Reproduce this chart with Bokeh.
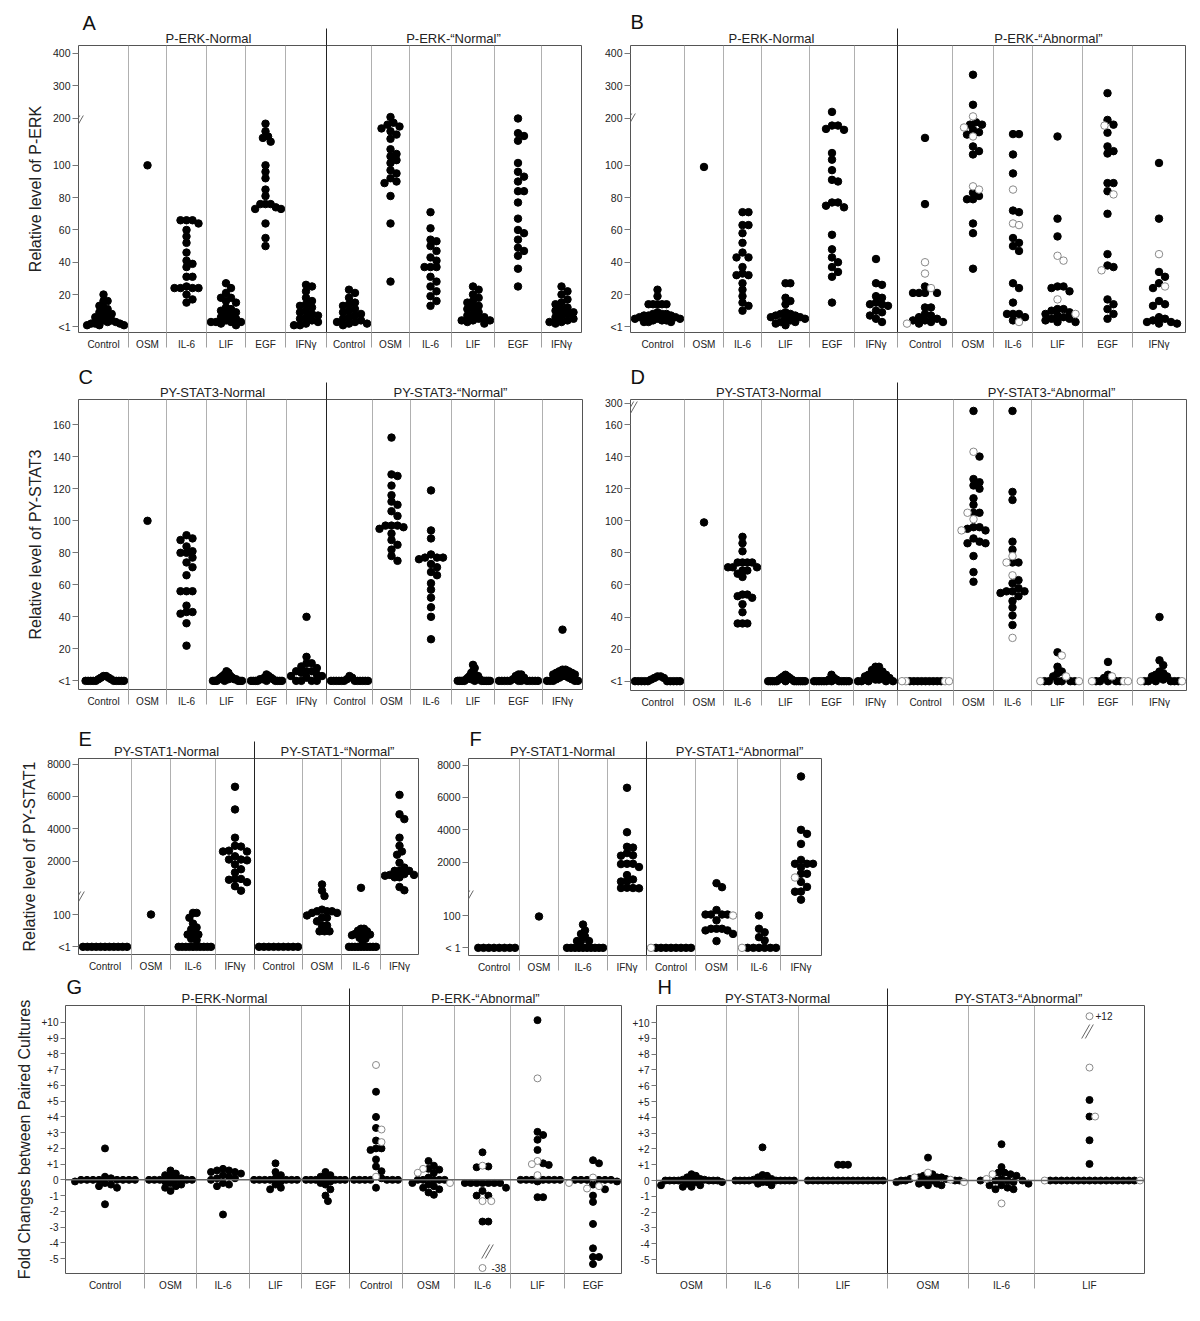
import numpy as np
from bokeh.plotting import figure
from bokeh.layouts import column, row
from bokeh.models import FixedTicker, Range1d, LinearAxis, Span
from bokeh.core.properties import value
from bokeh.embed import file_html
from bokeh.resources import INLINE

FONT = "Liberation Sans"

# ---------------- categories ----------------
CATS6 = ["Control", "OSM", "IL-6", "LIF", "EGF", "IFN\u03b3"]
CATS4 = ["Control", "OSM", "IL-6", "IFN\u03b3"]
CATS5 = ["Control", "OSM", "IL-6", "LIF", "EGF"]
CATS3 = ["OSM", "IL-6", "LIF"]

# ---------------- Panel A: P-ERK ----------------
A_ERK_NORMAL = [
    [20, 16, 16, 13, 12, 11, 9, 8, 8, 7, 6, 5, 4, 4, 3, 3, 2, 2, 1, 1, 1, 2],
    [100],
    [66, 66, 66, 64, 60, 56, 52, 46, 41, 39, 37, 31, 31, 25, 24, 24, 24, 24, 20, 17, 15],
    [27, 24, 21, 18, 18, 16, 15, 12, 11, 10, 9, 8, 7, 6, 5, 4, 3, 3, 3, 3, 2, 1],
    [188, 172, 161, 158, 150, 100, 96, 92, 85, 81, 76, 76, 76, 74, 73, 73, 64, 55, 50],
    [26, 25, 22, 18, 16, 14, 13, 12, 10, 9, 8, 7, 6, 5, 4, 3, 2, 1, 1],
]
A_ERK_QNORMAL = [
    [23, 21, 18, 15, 14, 13, 11, 10, 9, 8, 7, 6, 5, 4, 3, 3, 2, 2, 1],
    [203, 190, 186, 182, 178, 172, 165, 156, 134, 124, 119, 111, 105, 97, 95, 92, 90, 89, 81, 64, 28],
    [71, 61, 54, 53, 50, 47, 43, 41, 37, 37, 37, 31, 28, 25, 22, 19, 16, 13],
    [25, 23, 20, 18, 16, 15, 13, 12, 11, 9, 8, 7, 6, 5, 4, 4, 4, 3, 2],
    [199, 168, 162, 152, 105, 96, 93, 90, 84, 84, 77, 67, 60, 58, 54, 49, 47, 44, 36, 25],
    [25, 22, 20, 17, 15, 14, 12, 11, 10, 9, 8, 7, 6, 5, 4, 3, 3, 2],
]
# ---------------- Panel B: P-ERK ----------------
B_ERK_NORMAL = [
    [23, 19, 14, 14, 14, 14, 14, 9, 8, 8, 8, 7, 7, 7, 6, 6, 5, 5, 5, 4, 4, 4, 3, 3, 3],
    [99],
    [71, 71, 63, 63, 58, 52, 46, 43, 43, 37, 33, 32, 32, 27, 23, 19, 15, 13, 10],
    [27, 27, 18, 16, 14, 9, 8, 8, 7, 7, 6, 6, 5, 5, 4, 3, 3, 2, 1],
    [219, 184, 184, 177, 175, 126, 112, 97, 91, 90, 77, 77, 75, 74, 57, 48, 43, 40, 37, 34, 31, 15],
    [42, 27, 26, 19, 18, 15, 14, 14, 13, 10, 9, 7, 5, 3],
]
B_ERK_ABNORMAL = [
    [158, 76, 25, 21, 21, 21, 21, 12, 12, 8, 7, 6, 5, 4, 4, 3, 3, 2],
    [334, 241, 191, 186, 186, 175, 170, 165, 140, 130, 123, 83, 81, 79, 79, 64, 58, 36],
    [166, 166, 123, 95, 72, 71, 55, 52, 50, 47, 27, 24, 15, 8, 8, 8, 6, 4],
    [161, 67, 56, 25, 25, 24, 22, 11, 11, 10, 9, 8, 7, 6, 5, 5, 4, 3, 3],
    [277, 196, 186, 169, 140, 130, 125, 89, 89, 84, 70, 45, 38, 37, 17, 14, 11, 8, 5],
    [105, 67, 34, 31, 27, 24, 16, 14, 13, 6, 5, 4, 3, 3, 2, 2],
]
B_ERK_ABNORMAL_OPEN = [
    [40, 33, 24, 2],
    [205, 180, 161, 87, 85],
    [85, 64, 63, 3],
    [44, 41, 17, 8],
    [184, 82, 35],
    [45, 25],
]
# ---------------- Panel C: PY-STAT3 ----------------
C_STAT3_NORMAL = [
    [0, 0, 0, 0, 0, 0, 0, 0, 0, 0, 1, 2, 3, 3, 2, 1],
    [100],
    [91, 89, 88, 84, 81, 80, 80, 77, 74, 71, 66, 56, 56, 56, 47, 43, 43, 42, 36, 22],
    [0, 0, 0, 0, 1, 1, 2, 2, 3, 3, 4, 5, 6, 1, 0, 0, 0, 2, 1],
    [0, 0, 0, 0, 0, 0, 1, 1, 2, 3, 4, 2, 1, 0, 0, 0],
    [40, 15, 11, 11, 9, 8, 6, 6, 6, 5, 4, 3, 3, 2, 0, 0, 0, 0],
]
C_STAT3_QNORMAL = [
    [0, 0, 0, 0, 0, 0, 0, 0, 0, 0, 0, 0, 1, 2, 3],
    [152, 129, 128, 122, 116, 112, 110, 106, 103, 97, 97, 97, 96, 95, 92, 88, 85, 82, 78, 75],
    [119, 94, 89, 79, 77, 77, 77, 76, 73, 71, 68, 66, 61, 57, 52, 46, 40, 26],
    [0, 0, 0, 0, 0, 0, 0, 0, 0, 0, 1, 2, 3, 3, 4, 5, 6, 8, 10, 3, 2, 1, 1, 0, 0],
    [0, 0, 0, 0, 0, 0, 0, 0, 0, 0, 0, 0, 1, 2, 3, 4, 4],
    [32, 7, 7, 6, 6, 5, 5, 4, 4, 3, 3, 2, 2, 1, 1, 0, 0, 0, 0, 0],
]
# ---------------- Panel D: PY-STAT3 ----------------
D_STAT3_NORMAL = [
    [0, 0, 0, 0, 0, 0, 0, 0, 0, 0, 1, 2, 3, 3, 2],
    [99],
    [90, 86, 81, 74, 74, 74, 74, 71, 71, 71, 69, 69, 67, 65, 54, 54, 53, 52, 48, 43, 36, 36, 36],
    [0, 0, 0, 0, 0, 0, 0, 0, 0, 0, 0, 0, 1, 2, 3, 4, 3, 2, 1],
    [0, 0, 0, 0, 0, 0, 0, 0, 0, 0, 0, 0, 1, 2, 4, 1],
    [9, 9, 7, 6, 5, 5, 4, 4, 3, 3, 2, 2, 1, 1, 0, 0, 0, 0, 0],
]
D_STAT3_ABNORMAL = [
    [0, 0, 0, 0, 0, 0, 0, 0, 0],
    [250, 140, 126, 124, 122, 120, 114, 110, 105, 105, 96, 96, 95, 94, 89, 87, 86, 86, 78, 68, 62],
    [250, 118, 113, 87, 82, 74, 74, 63, 61, 58, 56, 56, 56, 55, 53, 50, 46, 41, 35],
    [18, 9, 6, 5, 3, 0, 0, 0, 0, 0, 0],
    [12, 4, 2, 0, 0, 0, 0, 0],
    [40, 13, 10, 6, 5, 4, 3, 3, 2, 1, 0, 0, 0, 0, 0, 0],
]
D_STAT3_ABNORMAL_OPEN = [
    [0, 0, 0, 0],
    [143, 105, 101, 94],
    [78, 74, 66, 27],
    [16, 3, 0, 0],
    [3, 0, 0, 0],
    [0, 0],
]
# ---------------- Panel E: PY-STAT1 ----------------
E_STAT1_NORMAL = [
    [0, 0, 0, 0, 0, 0, 0, 0, 0, 0, 0],
    [100],
    [105, 105, 90, 72, 60, 54, 38, 38, 38, 25, 21, 0, 0, 0, 0, 0, 0, 0, 0, 0, 0],
    [6600, 5200, 3450, 2950, 2900, 2650, 2600, 2600, 2300, 2100, 2100, 2050, 1800, 1500,
     1300, 900, 900, 850, 700, 450, 175],
]
E_STAT1_QNORMAL = [
    [0, 0, 0, 0, 0, 0, 0, 0, 0],
    [560, 175, 157, 115, 110, 110, 110, 105, 105, 97, 90, 90, 79, 66, 66, 48, 48, 48],
    [350, 56, 56, 50, 48, 40, 38, 38, 36, 28, 25, 18, 0, 0, 0, 0, 0, 0, 0, 0, 0, 0],
    [6100, 4900, 4600, 3450, 2950, 2600, 2400, 1900, 1600, 1400, 1400, 1400, 1200, 1150,
     1150, 1100, 1000, 1000, 400, 200],
]
# ---------------- Panel F: PY-STAT1 ----------------
F_STAT1_NORMAL = [
    [0, 0, 0, 0, 0, 0, 0, 0],
    [97],
    [72, 54, 43, 35, 21, 21, 21, 0, 0, 0, 0, 0, 0, 0, 0, 0, 0],
    [6600, 3850, 2950, 2900, 2560, 2420, 2400, 1900, 1900, 1880, 1700, 1200, 930, 820, 800,
     420, 400, 400, 380],
]
F_STAT1_ABNORMAL = [
    [0, 0, 0, 0, 0, 0, 0, 0],
    [700, 450, 117, 103, 103, 103, 103, 85, 59, 59, 59, 54, 54, 43, 21],
    [100, 59, 48, 33, 23, 0, 0, 0, 0, 0, 0],
    [7300, 4000, 3750, 3130, 2140, 1900, 1900, 1900, 1680, 1280, 1280, 780, 470, 180, 175, 149],
]
F_STAT1_ABNORMAL_OPEN = [[0], [100], [0], [1050]]
# ---------------- Panel G: fold change P-ERK ----------------
G_ERK_NORMAL = [
    [2.0, 0.2, 0.1, 0, 0, 0, 0, 0, 0, 0, 0, -0.1, -0.2, -0.3, -0.4, -0.5, -1.55],
    [0.6, 0.4, 0.3, 0.2, 0.1, 0, 0, 0, 0, 0, 0, -0.1, -0.2, -0.3, -0.4, -0.5, -0.7],
    [0.7, 0.6, 0.6, 0.5, 0.5, 0.4, 0.3, 0.2, 0.1, 0.1, 0, -0.2, -0.3, -0.4, -2.2],
    [1.05, 0.5, 0.3, 0.1, 0, 0, 0, 0, 0, 0, 0, -0.1, -0.3, -0.5, -0.6],
    [0.5, 0.3, 0.2, 0.1, 0, 0, 0, 0, 0, 0, -0.1, -0.2, -0.3, -0.6, -1.0, -1.35],
]
G_ERK_ABNORMAL = [
    [5.6, 4.0, 3.3, 2.5, 2.0, 2.0, 1.9, 1.3, 0.85, 0.55, 0.1, 0, 0, 0, 0, 0, 0, 0, -0.5],
    [1.2, 0.9, 0.7, 0.65, 0.45, 0.15, 0, 0, 0, 0, 0, -0.2, -0.3, -0.4, -0.5, -0.6, -0.8, -0.95],
    [1.75, 0.85, 0.8, -0.2, -0.2, -0.2, -0.2, -0.2, -0.2, -0.2, -0.5, -0.7, -1.0, -1.0, -2.65, -2.65],
    [10.15, 3.05, 2.85, 2.55, 1.9, 1.05, 0.95, 0, 0, 0, 0, 0, 0, 0, -0.1, -1.1, -1.1],
    [1.25, 1.05, 0, 0, 0, 0, 0, 0, -0.1, -0.3, -0.6, -1.0, -1.4, -2.8, -4.35, -4.9, -4.9, -5.35],
]
G_ERK_ABNORMAL_OPEN = [
    [7.3, 3.2, 2.4, 0.2],
    [0.7, 0.45, -0.2],
    [0.9, -1.35, -1.35, -38],
    [6.45, 1.2, 1.0, 0.3],
    [0.15, -0.2, -0.4, -0.55],
]
# ---------------- Panel H: fold change PY-STAT3 ----------------
H_STAT3_NORMAL = [
    [0.4, 0.3, 0.2, 0.1, 0.05, 0, 0, 0, 0, 0, -0.1, -0.2, -0.3, -0.3, -0.4, -0.4, -0.1, 0, 0.05, 0, 0],
    [2.1, 0.35, 0.3, 0.2, 0.1, 0.05, 0, 0, 0, 0, 0, 0, 0, -0.1, -0.2, -0.3, -0.1, 0, 0],
    [1, 1, 1, 0, 0, 0, 0, 0, 0, 0, 0, 0, 0, 0, 0, 0, 0, 0, 0],
]
H_STAT3_ABNORMAL = [
    [1.45, 0.4, 0.3, 0.2, 0.2, 0.1, 0.1, 0, 0, 0, 0, 0, -0.1, -0.2, -0.3, -0.3, -0.2, -0.1, 0.1, 0.2],
    [2.3, 0.85, 0.5, 0.5, 0.4, 0.3, 0.1, 0, 0, 0, 0, -0.1, -0.2, -0.3, -0.3, -0.45, -0.55, -0.55],
    [5.1, 4.05, 2.55, 1.05, 0, 0, 0, 0, 0, 0, 0, 0, 0, 0, 0, 0, 0, 0, 0, 0],
]
H_STAT3_ABNORMAL_OPEN = [
    [0.5, 0.2, -0.1, 0.05],
    [0.4, 0.1, -1.45],
    [12, 7.15, 4.05, 0, 0],
]

# tick values (data units) and labels
ERK_TICKS = [0, 20, 40, 60, 80, 100, 200, 300, 400]
ERK_TICK_LABELS = ["<1", "20", "40", "60", "80", "100", "200", "300", "400"]
C_TICKS = [0, 20, 40, 60, 80, 100, 120, 140, 160]
C_TICK_LABELS = ["<1", "20", "40", "60", "80", "100", "120", "140", "160"]
D_TICKS = [0, 20, 40, 60, 80, 100, 120, 140, 160, 300]
D_TICK_LABELS = ["<1", "20", "40", "60", "80", "100", "120", "140", "160", "300"]
S1_TICKS = [0, 100, 2000, 4000, 6000, 8000]
E_TICK_LABELS = ["<1", "100", "2000", "4000", "6000", "8000"]
F_TICK_LABELS = ["< 1", "100", "2000", "4000", "6000", "8000"]
FOLD_TICKS = [10, 9, 8, 7, 6, 5, 4, 3, 2, 1, 0, -1, -2, -3, -4, -5]
FOLD_TICK_LABELS = ["+10", "+9", "+8", "+7", "+6", "+5", "+4", "+3", "+2", "+1", "0",
                    "-1", "-2", "-3", "-4", "-5"]


# ---------------- broken-axis transforms ----------------
def erk_tf(v):
    v = np.asarray(v, float)
    return np.where(v <= 100, v, np.where(v <= 200, 100 + (v - 100) * 0.293, 129.3 + (v - 200) * 0.2))


def lin_tf(v):
    return np.asarray(v, float)


def stat3d_tf(v):
    v = np.asarray(v, float)
    return np.where(v <= 160, v, 160 + (v - 160) * 0.0943)


def stat1_tf(v):
    v = np.asarray(v, float)
    return np.where(v <= 170, v, 165 + 0.05 * v)


def fold_tf(v):
    v = np.asarray(v, float)
    return np.where(v < -6, -5.6, np.where(v > 11, 10.4, v))


def swarm(ypx, d):
    n = len(ypx)
    offs = np.zeros(n)
    order = sorted(range(n), key=lambda i: -ypx[i])
    placed = []
    step = d / 2.0
    for i in order:
        y = ypx[i]
        k = 0
        while True:
            cands = [0.0] if k == 0 else [k * step, -k * step]
            found = None
            for c in cands:
                if all((c - px) ** 2 + (y - py) ** 2 >= d * d - 1e-9 for px, py in placed):
                    found = c
                    break
            if found is not None:
                break
            k += 1
        offs[i] = found
        placed.append((found, y))
    return offs


def make_panel(box, row_top, row_bottom, border_lr, yr, tf, ytick_vals, ytick_labels, ylabel,
               dividers, main_idx, xlabels, filled, opened, titles, letter,
               breaks=(), zero_line=False, specials=(), dot=7.5, d=6.0, tick_font="10.5px",
               tick_out=6, letter_standoff=0):
    fl, ft, fw, fh = box
    bl, br = border_lr
    y0, y1 = yr
    ppu = fh / (y1 - y0)

    def X(a):
        return a - fl

    def Y(a):
        return y1 - (a - ft) / ppu

    p = figure(frame_width=fw, frame_height=fh, x_range=Range1d(0, fw), y_range=Range1d(y0, y1),
               output_backend="svg", toolbar_location=None,
               min_border_left=bl, min_border_right=br, min_border_top=ft - row_top,
               min_border_bottom=row_bottom - (ft + fh))
    p.xgrid.visible = False
    p.ygrid.visible = False
    p.outline_line_color = "#555555"
    p.outline_line_width = 1
    p.background_fill_color = "white"
    p.border_fill_color = "white"

    # panel letter as the plot title
    p.title.text = letter[0]
    p.title.align = "left"
    p.title.offset = max(0, letter[1] - fl)
    p.title.text_font = FONT
    p.title.text_font_size = "20px"
    p.title.text_font_style = "normal"
    p.title.text_color = "#111111"
    p.title.standoff = letter_standoff

    bounds = [0] + list(dividers) + [fw]
    centers = [(bounds[i] + bounds[i + 1]) / 2.0 for i in range(len(bounds) - 1)]

    # bottom axis: category labels, divider extensions as minor ticks
    xa = p.xaxis[0]
    xa.ticker = FixedTicker(ticks=centers, minor_ticks=[float(v) for v in dividers])
    xa.major_label_overrides = {c: lab for c, lab in zip(centers, xlabels)}
    xa.major_tick_out = 0
    xa.major_tick_in = 0
    xa.major_tick_line_color = None
    xa.minor_tick_out = 15
    xa.minor_tick_in = 0
    xa.minor_tick_line_color = "#a0a0a0"
    xa.axis_line_color = None
    xa.major_label_text_font = FONT
    xa.major_label_text_font_size = "10px"
    xa.major_label_text_color = "#222222"
    xa.major_label_standoff = -9

    # top axis: group titles, main divider extension as minor tick
    tcs = [float(X(t[1])) for t in titles]
    ta = LinearAxis(ticker=FixedTicker(ticks=tcs, minor_ticks=[float(dividers[main_idx])]),
                    major_label_overrides={c: t[0] for c, t in zip(tcs, titles)},
                    major_tick_out=0, major_tick_in=0, major_tick_line_color=None,
                    minor_tick_out=17, minor_tick_in=0, minor_tick_line_color="#222222",
                    axis_line_color=None, major_label_text_font=FONT,
                    major_label_text_font_size="13px", major_label_text_color="#222222",
                    major_label_standoff=-17)
    p.add_layout(ta, "above")

    yt = [float(u) for u in tf(ytick_vals)]
    ya = p.yaxis[0]
    ya.ticker = FixedTicker(ticks=yt)
    ya.major_label_overrides = {u: lab for u, lab in zip(yt, ytick_labels)}
    ya.major_tick_out = tick_out
    ya.major_tick_in = 0
    ya.major_tick_line_color = "#777777"
    ya.minor_tick_line_color = None
    ya.axis_line_color = None
    ya.major_label_text_font = FONT
    ya.major_label_text_font_size = tick_font
    ya.major_label_text_color = "#222222"
    ya.major_label_standoff = 2
    if ylabel:
        ya.axis_label = ylabel
        ya.axis_label_text_font = FONT
        ya.axis_label_text_font_size = "16px"
        ya.axis_label_text_font_style = "normal"
        ya.axis_label_text_color = "#222222"
        ya.axis_label_standoff = 6

    # column dividers
    for i, dv in enumerate(dividers):
        col = "#222222" if i == main_idx else "#b0b0b0"
        p.add_layout(Span(location=dv, dimension="height", line_color=col, line_width=1))
    if zero_line:
        p.add_layout(Span(location=0, dimension="width", line_color="#666666", line_width=1.5))

    # points (beeswarm offsets computed from values)
    fx, fy, ox, oy = [], [], [], []
    for i in range(len(centers)):
        fv = list(filled[i])
        ov = list(opened[i])
        vals = fv + ov
        if not vals:
            continue
        flags = [0] * len(fv) + [1] * len(ov)
        u = tf(vals)
        offs = swarm(list(u * ppu), d)
        maxoff = (bounds[i + 1] - bounds[i]) / 2.0 - 4.5
        m = np.max(np.abs(offs))
        if m > maxoff:
            offs = offs * (maxoff / m)
        for uu, oo, fl_ in zip(u, offs, flags):
            if fl_:
                ox.append(centers[i] + oo)
                oy.append(uu)
            else:
                fx.append(centers[i] + oo)
                fy.append(uu)
    p.scatter(fx, fy, size=dot, marker="circle", fill_color="black", line_color="black")
    if ox:
        p.scatter(ox, oy, size=dot, marker="circle", fill_color="white", line_color="#8a8a8a",
                  line_width=1)

    # break marks
    bx0, by0, bx1, by1 = [], [], [], []
    for (cx, cy) in breaks:
        for k in (-1.8, 1.8):
            bx0.append(X(cx - 4 + k)); by0.append(Y(cy + 7))
            bx1.append(X(cx + 4 + k)); by1.append(Y(cy - 7))
    if bx0:
        p.segment(x0=bx0, y0=by0, x1=bx1, y1=by1, line_color="#666666", line_width=1)

    if specials:
        p.text(x=[X(s[1]) for s in specials], y=[float(tf([s[2]])[0]) for s in specials],
               text=[s[0] for s in specials], text_font=value(FONT), text_font_size=value("10px"),
               text_align="left", text_baseline="middle", text_color="#222222")
    return p


QN = "\u201cNormal\u201d"
QA = "\u201cAbnormal\u201d"

pA = make_panel((78, 45, 503, 287), 0, 350, (78, 8), (-3.5, 174.2), erk_tf, ERK_TICKS,
                ERK_TICK_LABELS, "Relative level of P-ERK",
                [50, 88, 128, 167, 207, 248, 293, 331, 373, 416, 463], 5, CATS6 + CATS6,
                A_ERK_NORMAL + A_ERK_QNORMAL, [[] for _ in range(12)],
                [("P-ERK-Normal", 208, 42), ("P-ERK-" + QN, 453, 42)], ("A", 82, 32),
                breaks=[(77, 122)], letter_standoff=-12)

pB = make_panel((630, 45, 555, 287), 0, 350, (41, 7), (-3.5, 174.2), erk_tf, ERK_TICKS,
                ERK_TICK_LABELS, None,
                [54, 93, 131, 179, 224, 267, 322, 363, 402, 452, 502], 5, CATS6 + CATS6,
                B_ERK_NORMAL + B_ERK_ABNORMAL, [[] for _ in range(6)] + B_ERK_ABNORMAL_OPEN,
                [("P-ERK-Normal", 771, 41), ("P-ERK-" + QA, 1048, 42)], ("B", 625, 30),
                breaks=[(629, 120)], letter_standoff=-10)

pC = make_panel((78, 397, 504, 290), 350, 705, (78, 8), (-5.4, 175.8), lin_tf, C_TICKS,
                C_TICK_LABELS, "Relative level of PY-STAT3",
                [50, 88, 128, 168, 208, 248, 294, 332, 373, 416, 464], 5, CATS6 + CATS6,
                C_STAT3_NORMAL + C_STAT3_QNORMAL, [[] for _ in range(12)],
                [("PY-STAT3-Normal", 212, 392), ("PY-STAT3-" + QN, 450, 392)], ("C", 77, 385),
                letter_standoff=-12)

pD = make_panel((630, 396, 556, 291), 350, 705, (40, 7), (-5.8, 175.6), stat3d_tf, D_TICKS,
                D_TICK_LABELS, None,
                [54, 93, 131, 179, 223, 267, 323, 363, 401, 453, 502], 5, CATS6 + CATS6,
                D_STAT3_NORMAL + D_STAT3_ABNORMAL, [[] for _ in range(6)] + D_STAT3_ABNORMAL_OPEN,
                [("PY-STAT3-Normal", 768, 392), ("PY-STAT3-" + QA, 1051, 390)], ("D", 628, 384),
                breaks=[(631, 405)], letter_standoff=-12)

pE = make_panel((78, 754, 340, 196), 705, 968, (78, 10), (-23.7, 582.5), stat1_tf, S1_TICKS,
                E_TICK_LABELS, "Relative level of PY-STAT1",
                [53, 92, 137, 176, 224, 263, 302], 3, CATS4 + CATS4,
                E_STAT1_NORMAL + E_STAT1_QNORMAL, [[] for _ in range(8)],
                [("PY-STAT1-Normal", 166, 749), ("PY-STAT1-" + QN, 337, 749)], ("E", 77, 748),
                breaks=[(78, 894)], letter_standoff=-19)

pF = make_panel((468, 753, 353, 197), 705, 968, (40, 10), (-23.7, 585.6), stat1_tf, S1_TICKS,
                F_TICK_LABELS, None,
                [51, 90, 139, 178, 227, 269, 312], 3, CATS4 + CATS4,
                F_STAT1_NORMAL + F_STAT1_ABNORMAL, [[] for _ in range(4)] + F_STAT1_ABNORMAL_OPEN,
                [("PY-STAT1-Normal", 562, 749), ("PY-STAT1-" + QA, 739, 749)], ("F", 469, 747),
                breaks=[(467, 892)], letter_standoff=-19)

pG = make_panel((65, 999, 556, 268), 968, 1296, (65, 8), (-5.95, 11.08), fold_tf, FOLD_TICKS,
                FOLD_TICK_LABELS, "Fold Changes between Paired Cultures",
                [79, 131, 184, 236, 284, 337, 389, 445, 499], 4, CATS5 + CATS5,
                G_ERK_NORMAL + G_ERK_ABNORMAL, [[] for _ in range(5)] + G_ERK_ABNORMAL_OPEN,
                [("P-ERK-Normal", 224, 1001), ("P-ERK-" + QA, 485, 1001)], ("G", 66, 1001),
                breaks=[(487, 1245)], zero_line=True, specials=[("-38", 491, -38)],
                dot=7.0, d=6.0, tick_font="10px", tick_out=5, letter_standoff=-20)

pH = make_panel((655, 999, 488, 268), 968, 1296, (26, 10), (-5.886, 11.08), fold_tf, FOLD_TICKS,
                FOLD_TICK_LABELS, None,
                [70, 142, 231, 312, 378], 2, CATS3 + CATS3,
                H_STAT3_NORMAL + H_STAT3_ABNORMAL, [[] for _ in range(3)] + H_STAT3_ABNORMAL_OPEN,
                [("PY-STAT3-Normal", 776, 1001), ("PY-STAT3-" + QA, 1017, 1001)], ("H", 656, 1001),
                breaks=[(1086, 1025)], zero_line=True, specials=[("+12", 1094, 12)],
                dot=7.0, d=6.0, tick_font="10px", tick_out=5, letter_standoff=-20)

layout = column(row(pA, pB), row(pC, pD), row(pE, pF), row(pG, pH))

with open("out.html", "w") as f:
    f.write(file_html(layout, INLINE))
